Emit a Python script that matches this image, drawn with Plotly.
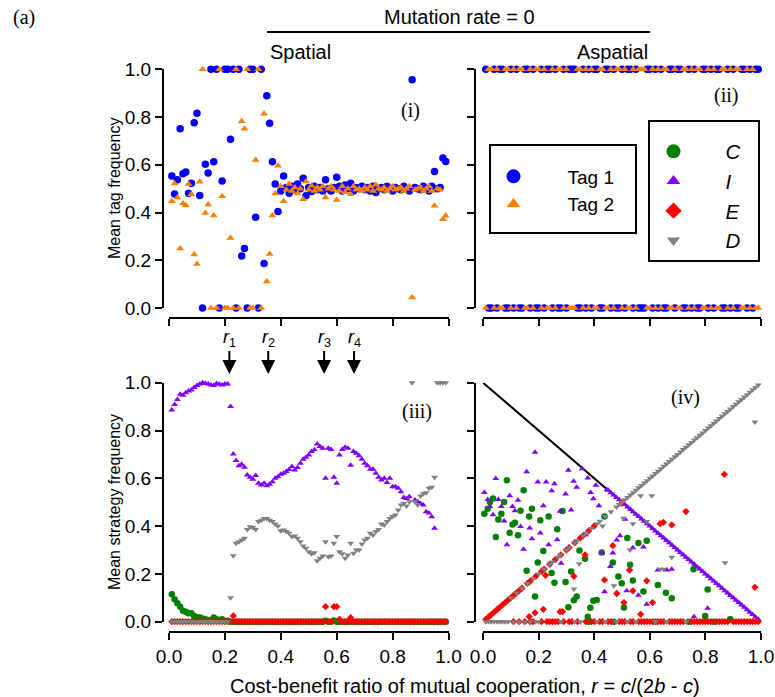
import plotly.graph_objects as go

# ---------------- data ----------------
# Spatial runs: cost-benefit ratio grid
sp_r = [0.01, 0.02, 0.03, 0.04, 0.05, 0.06, 0.07, 0.08, 0.09, 0.10,
        0.11, 0.12, 0.13, 0.14, 0.15, 0.16, 0.17, 0.18, 0.19, 0.20,
        0.21, 0.22, 0.23, 0.24, 0.25, 0.26, 0.27, 0.28, 0.29, 0.30,
        0.31, 0.32, 0.33, 0.34, 0.35, 0.36, 0.37, 0.38, 0.39, 0.40,
        0.41, 0.42, 0.43, 0.44, 0.45, 0.46, 0.47, 0.48, 0.49, 0.50,
        0.51, 0.52, 0.53, 0.54, 0.55, 0.56, 0.57, 0.58, 0.59, 0.60,
        0.61, 0.62, 0.63, 0.64, 0.65, 0.66, 0.67, 0.68, 0.69, 0.70,
        0.71, 0.72, 0.73, 0.74, 0.75, 0.76, 0.77, 0.78, 0.79, 0.80,
        0.81, 0.82, 0.83, 0.84, 0.85, 0.86, 0.87, 0.88, 0.89, 0.90,
        0.91, 0.92, 0.93, 0.94, 0.95, 0.96, 0.97, 0.98, 0.99]

sp_tag1 = [0.553, 0.478, 0.537, 0.751, 0.562, 0.570, 0.481, 0.523, 0.776, 0.816,
           0.471, 0.0, 0.602, 0.566, 1.0, 0.613, 1.0, 0.0, 0.532, 1.0,
           1.0, 0.707, 1.0, 0.0, 1.0, 0.218, 0.249, 0.0, 1.0, 1.0,
           0.380, 0.0, 1.0, 0.186, 0.889, 0.774, 0.613, 0.520, 0.404, 0.49,
           0.553, 0.505, 0.481, 0.51, 0.495, 0.52, 0.50, 0.544, 0.470, 0.505,
           0.488, 0.51, 0.495, 0.505, 0.49, 0.537, 0.50, 0.49, 0.505, 0.548,
           0.51, 0.49, 0.515, 0.50, 0.523, 0.49, 0.505, 0.50, 0.51, 0.495,
           0.505, 0.49, 0.51, 0.484, 0.50, 0.505, 0.495, 0.51, 0.50, 0.49,
           0.505, 0.50, 0.495, 0.51, 0.50, 0.49, 0.956, 0.505, 0.50, 0.495,
           0.51, 0.50, 0.49, 0.51, 0.572, 0.50, 0.505, 0.628, 0.614]

sp_tag2 = [0.447, 0.522, 0.463, 0.249, 0.438, 0.430, 0.519, 0.477, 0.224, 0.184,
           0.529, 1.0, 0.398, 0.434, 0.0, 0.387, 0.0, 1.0, 0.468, 0.0,
           0.0, 0.293, 0.0, 1.0, 0.0, 0.782, 0.751, 1.0, 0.0, 0.0,
           0.620, 1.0, 0.0, 0.814, 0.111, 0.226, 0.387, 0.480, 0.596, 0.51,
           0.447, 0.495, 0.519, 0.49, 0.505, 0.48, 0.50, 0.456, 0.530, 0.495,
           0.512, 0.49, 0.505, 0.495, 0.51, 0.463, 0.50, 0.51, 0.495, 0.452,
           0.49, 0.51, 0.485, 0.50, 0.477, 0.51, 0.495, 0.50, 0.49, 0.505,
           0.495, 0.51, 0.49, 0.516, 0.50, 0.495, 0.505, 0.49, 0.50, 0.51,
           0.495, 0.50, 0.505, 0.49, 0.50, 0.51, 0.044, 0.495, 0.50, 0.505,
           0.49, 0.50, 0.51, 0.49, 0.428, 0.50, 0.495, 0.372, 0.386]

sp_C = [0.115, 0.094, 0.077, 0.063, 0.046, 0.042, 0.035, 0.035, 0.024, 0.018,
        0.018, 0.013, 0.010, 0.007, 0.007, 0.018, 0.010, 0.007, 0.010, 0.003,
        0.004, 0.0, 0.0, 0.0, 0.0, 0.0, 0.0, 0.0, 0.0, 0.0,
        0.0, 0.0, 0.0, 0.0, 0.0, 0.0, 0.0, 0.0, 0.0, 0.0,
        0.0, 0.0, 0.0, 0.0, 0.0, 0.0, 0.0, 0.0, 0.0, 0.0,
        0.0, 0.0, 0.0, 0.0, 0.0, 0.004, 0.0, 0.0, 0.005, 0.0,
        0.0, 0.0, 0.0, 0.0, 0.0, 0.0, 0.0, 0.0, 0.0, 0.0,
        0.0, 0.0, 0.0, 0.0, 0.0, 0.0, 0.0, 0.0, 0.0, 0.0,
        0.0, 0.0, 0.0, 0.0, 0.0, 0.0, 0.0, 0.0, 0.0, 0.0,
        0.0, 0.0, 0.0, 0.0, 0.0, 0.0, 0.0, 0.0, 0.0]

sp_I = [0.886, 0.909, 0.930, 0.952, 0.948, 0.958, 0.965, 0.969, 0.980, 0.988,
        0.995, 1.000, 0.997, 0.995, 0.990, 0.988, 0.997, 0.993, 0.990, 0.995,
        0.995, 0.900, 0.702, 0.674, 0.652, 0.659, 0.646, 0.614, 0.604, 0.596,
        0.612, 0.579, 0.572, 0.579, 0.569, 0.575, 0.586, 0.600, 0.607, 0.617,
        0.621, 0.628, 0.637, 0.649, 0.635, 0.645, 0.663, 0.680, 0.688, 0.698,
        0.712, 0.719, 0.744, 0.733, 0.726, 0.600, 0.726, 0.721, 0.604, 0.579,
        0.698, 0.721, 0.730, 0.726, 0.655, 0.712, 0.705, 0.694, 0.680, 0.663,
        0.652, 0.638, 0.638, 0.621, 0.604, 0.593, 0.600, 0.582, 0.600, 0.565,
        0.565, 0.558, 0.544, 0.520, 0.516, 0.523, 0.000, 0.509, 0.502, 0.495,
        0.488, 0.460, 0.455, 0.439, 0.391, 0.000, 0.000, 0.000, 0.000]

sp_E = [0.0, 0.0, 0.0, 0.0, 0.0, 0.0, 0.0, 0.0, 0.0, 0.0,
        0.0, 0.0, 0.0, 0.0, 0.0, 0.0, 0.0, 0.0, 0.0, 0.0,
        0.0, 0.0, 0.024, 0.0, 0.0, 0.0, 0.0, 0.0, 0.0, 0.0,
        0.0, 0.0, 0.0, 0.0, 0.0, 0.0, 0.0, 0.0, 0.0, 0.0,
        0.0, 0.0, 0.0, 0.0, 0.0, 0.0, 0.0, 0.0, 0.0, 0.0,
        0.0, 0.0, 0.0, 0.0, 0.0, 0.063, 0.0, 0.0, 0.063, 0.063,
        0.010, 0.0, 0.0, 0.0, 0.017, 0.0, 0.0, 0.0, 0.0, 0.0,
        0.0, 0.0, 0.0, 0.0, 0.0, 0.0, 0.0, 0.0, 0.0, 0.0,
        0.0, 0.0, 0.0, 0.0, 0.0, 0.0, 0.0, 0.0, 0.0, 0.0,
        0.0, 0.0, 0.0, 0.0, 0.0, 0.0, 0.0, 0.0, 0.0]

sp_D = [0.0, 0.0, 0.0, 0.0, 0.0, 0.0, 0.0, 0.0, 0.0, 0.0,
        0.0, 0.0, 0.0, 0.0, 0.0, 0.0, 0.0, 0.0, 0.0, 0.0,
        0.0, 0.100, 0.276, 0.328, 0.335, 0.342, 0.349, 0.386, 0.397, 0.394,
        0.386, 0.419, 0.425, 0.432, 0.432, 0.425, 0.419, 0.409, 0.400, 0.381,
        0.384, 0.377, 0.370, 0.356, 0.359, 0.349, 0.335, 0.317, 0.307, 0.293,
        0.284, 0.289, 0.255, 0.265, 0.275, 0.335, 0.272, 0.275, 0.328, 0.356,
        0.293, 0.284, 0.265, 0.279, 0.328, 0.286, 0.300, 0.300, 0.325, 0.342,
        0.349, 0.370, 0.363, 0.377, 0.386, 0.409, 0.405, 0.419, 0.432, 0.440,
        0.446, 0.467, 0.488, 0.495, 0.484, 0.502, 1.000, 0.502, 0.488, 0.526,
        0.535, 0.540, 0.558, 0.563, 0.604, 1.000, 1.000, 1.000, 1.000]

# Aspatial runs: tag frequencies (fixation at 0 or 1)
asp_r = list(sp_r)
asp_tag1 = [1, 0, 0, 1, 0, 1, 1, 0, 0, 1,
            0, 1, 0, 0, 1, 1, 0, 1, 0, 0,
            1, 0, 1, 1, 0, 1, 0, 0, 1, 0,
            1, 1, 1, 0, 0, 1, 0, 1, 0, 1,
            1, 0, 0, 1, 1, 0, 1, 0, 0, 1,
            0, 1, 1, 0, 1, 0, 0, 0, 1, 1,
            0, 1, 0, 1, 0, 0, 1, 1, 0, 1,
            1, 0, 0, 1, 0, 1, 0, 0, 1, 1,
            0, 1, 0, 1, 1, 0, 0, 1, 0, 1,
            0, 0, 1, 1, 0, 1, 0, 1, 1]
asp_tag2 = [0, 1, 1, 0, 1, 0, 0, 1, 1, 0,
            1, 0, 1, 1, 0, 0, 1, 0, 1, 1,
            0, 1, 0, 0, 1, 0, 1, 1, 0, 1,
            0, 0, 0, 1, 1, 0, 1, 0, 1, 0,
            0, 1, 1, 0, 0, 1, 0, 1, 1, 0,
            1, 0, 0, 1, 0, 1, 1, 1, 0, 0,
            1, 0, 1, 0, 1, 1, 0, 0, 1, 0,
            0, 1, 1, 0, 1, 0, 1, 1, 0, 0,
            1, 0, 1, 0, 0, 1, 1, 0, 1, 0,
            1, 1, 0, 0, 1, 0, 1, 0, 0]

# Aspatial runs: strategy frequencies (r, frequency)
asp_C_r = [0.005, 0.017, 0.025, 0.036, 0.046, 0.055, 0.066, 0.076, 0.086, 0.096,
           0.106, 0.115, 0.126, 0.135, 0.146, 0.157, 0.166, 0.176, 0.187, 0.197,
           0.206, 0.217, 0.236, 0.247, 0.257, 0.267, 0.286, 0.297, 0.307, 0.317,
           0.327, 0.337, 0.347, 0.367, 0.377, 0.386, 0.397, 0.409, 0.427, 0.437,
           0.467, 0.487, 0.499, 0.507, 0.519, 0.529, 0.539, 0.559, 0.577, 0.589,
           0.629, 0.658, 0.679, 0.757, 0.799, 0.808, 0.889,
           0.38, 0.47, 0.62, 0.74, 0.83]
asp_C_f = [0.452, 0.473, 0.501, 0.515, 0.354, 0.428, 0.452, 0.501, 0.592, 0.372,
           0.407, 0.414, 0.362, 0.464, 0.550, 0.213, 0.440, 0.473, 0.105, 0.248,
           0.424, 0.296, 0.440, 0.204, 0.163, 0.387, 0.463, 0.166, 0.060, 0.210,
           0.090, 0.105, 0.298, 0.263, 0.021, 0.058, 0.088, 0.091, 0.290, 0.440,
           0.248, 0.189, 0.161, 0.059, 0.350, 0.238, 0.172, 0.329, 0.126, 0.339,
           0.154, 0.121, 0.098, 0.219, 0.024, 0.135, 0.010,
           0.0, 0.0, 0.0, 0.0, 0.0]

asp_I_r = [0.005, 0.017, 0.025, 0.036, 0.046, 0.055, 0.066, 0.076, 0.086, 0.096,
           0.106, 0.115, 0.126, 0.135, 0.146, 0.157, 0.168, 0.176, 0.187, 0.197,
           0.206, 0.217, 0.227, 0.236, 0.247, 0.257, 0.267, 0.277, 0.281, 0.297,
           0.307, 0.317, 0.326, 0.337, 0.357, 0.369, 0.377, 0.387, 0.397, 0.406,
           0.417, 0.427, 0.437, 0.446, 0.458, 0.467, 0.481, 0.493, 0.511, 0.517,
           0.539, 0.559, 0.577, 0.589, 0.629, 0.661, 0.679, 0.759, 0.808,
           0.45, 0.46, 0.47, 0.48, 0.49, 0.50, 0.51, 0.52, 0.53, 0.54,
           0.55, 0.56, 0.57, 0.58, 0.59, 0.60, 0.61, 0.62, 0.63, 0.64,
           0.65, 0.66, 0.67, 0.68, 0.69, 0.70, 0.71, 0.72, 0.73, 0.74,
           0.75, 0.76, 0.77, 0.78, 0.79, 0.80, 0.81, 0.82, 0.83, 0.84,
           0.85, 0.86, 0.87, 0.88, 0.89, 0.90, 0.91, 0.92, 0.93, 0.94,
           0.95, 0.96, 0.97, 0.98, 0.99]
asp_I_f = [0.541, 0.511, 0.482, 0.447, 0.599, 0.511, 0.482, 0.421, 0.322, 0.527,
           0.482, 0.464, 0.508, 0.398, 0.303, 0.627, 0.392, 0.347, 0.709, 0.584,
           0.371, 0.485, 0.584, 0.322, 0.548, 0.577, 0.343, 0.462, 0.245, 0.534,
           0.634, 0.467, 0.588, 0.563, 0.640, 0.364, 0.601, 0.541, 0.514, 0.571,
           0.485, 0.287, 0.125, 0.552, 0.231, 0.287, 0.342, 0.360, 0.429, 0.129,
           0.309, 0.111, 0.313, 0.073, 0.216, 0.216, 0.219, 0.021, 0.056,
           0.55, 0.54, 0.53, 0.52, 0.51, 0.50, 0.49, 0.48, 0.47, 0.46,
           0.45, 0.44, 0.43, 0.42, 0.41, 0.40, 0.39, 0.38, 0.37, 0.36,
           0.35, 0.34, 0.33, 0.32, 0.31, 0.30, 0.29, 0.28, 0.27, 0.26,
           0.25, 0.24, 0.23, 0.22, 0.21, 0.20, 0.19, 0.18, 0.17, 0.16,
           0.15, 0.14, 0.13, 0.12, 0.11, 0.10, 0.09, 0.08, 0.07, 0.06,
           0.05, 0.04, 0.03, 0.02, 0.01]

asp_E_r = [0.01, 0.02, 0.03, 0.04, 0.05, 0.06, 0.07, 0.08, 0.09, 0.10,
           0.11, 0.12, 0.13, 0.14, 0.16, 0.17, 0.19, 0.21, 0.22, 0.24,
           0.26, 0.28, 0.30, 0.31, 0.33, 0.35, 0.36, 0.38, 0.40,
           0.166, 0.187, 0.217, 0.225, 0.277, 0.286, 0.327, 0.367, 0.437, 0.467,
           0.481, 0.499, 0.507, 0.527, 0.539, 0.567, 0.589, 0.610, 0.637, 0.649,
           0.679, 0.730, 0.868, 0.978,
           0.11, 0.13, 0.15, 0.17, 0.18, 0.21, 0.23, 0.24, 0.25, 0.26,
           0.27, 0.29, 0.31, 0.32, 0.34, 0.37, 0.39, 0.40, 0.42, 0.43,
           0.45, 0.46, 0.49, 0.50, 0.51, 0.53, 0.54, 0.56, 0.57, 0.58,
           0.59, 0.60, 0.61, 0.63, 0.64, 0.65, 0.67, 0.68, 0.69, 0.70,
           0.71, 0.72, 0.75, 0.76, 0.77, 0.78, 0.79, 0.80, 0.81, 0.82,
           0.84, 0.85, 0.86, 0.87, 0.88, 0.90, 0.91, 0.92, 0.93, 0.94,
           0.95, 0.96, 0.97, 0.98, 0.99]
asp_E_f = [0.01, 0.02, 0.03, 0.04, 0.05, 0.06, 0.07, 0.08, 0.09, 0.10,
           0.11, 0.12, 0.13, 0.14, 0.16, 0.17, 0.19, 0.21, 0.22, 0.24,
           0.26, 0.28, 0.30, 0.31, 0.33, 0.35, 0.36, 0.38, 0.40,
           0.021, 0.037, 0.052, 0.194, 0.042, 0.042, 0.190, 0.280, 0.175, 0.318,
           0.118, 0.496, 0.080, 0.216, 0.129, 0.031, 0.171, 0.080, 0.410, 0.416,
           0.405, 0.461, 0.616, 0.144,
           0.0, 0.0, 0.0, 0.0, 0.0, 0.0, 0.0, 0.0, 0.0, 0.0,
           0.0, 0.0, 0.0, 0.0, 0.0, 0.0, 0.0, 0.0, 0.0, 0.0,
           0.0, 0.0, 0.0, 0.0, 0.0, 0.0, 0.0, 0.0, 0.0, 0.0,
           0.0, 0.0, 0.0, 0.0, 0.0, 0.0, 0.0, 0.0, 0.0, 0.0,
           0.0, 0.0, 0.0, 0.0, 0.0, 0.0, 0.0, 0.0, 0.0, 0.0,
           0.0, 0.0, 0.0, 0.0, 0.0, 0.0, 0.0, 0.0, 0.0, 0.0,
           0.0, 0.0, 0.0, 0.0, 0.0]

asp_D_r = [0.10, 0.12, 0.14, 0.16, 0.18, 0.20, 0.22, 0.24, 0.25, 0.27,
           0.28, 0.30, 0.31, 0.33, 0.34, 0.36, 0.37, 0.39, 0.41, 0.42,
           0.44, 0.46, 0.48, 0.49, 0.50, 0.51, 0.52, 0.53, 0.54, 0.55,
           0.56, 0.57, 0.58, 0.59, 0.60, 0.61, 0.62, 0.63, 0.64, 0.65,
           0.66, 0.67, 0.68, 0.69, 0.70, 0.71, 0.72, 0.73, 0.74, 0.75,
           0.76, 0.77, 0.78, 0.79, 0.80, 0.81, 0.82, 0.83, 0.84, 0.85,
           0.86, 0.87, 0.88, 0.89, 0.90, 0.91, 0.92, 0.93, 0.94, 0.95,
           0.96, 0.97, 0.98, 0.99,
           0.327, 0.346, 0.43, 0.471, 0.505, 0.529, 0.539, 0.567, 0.589, 0.607,
           0.637, 0.649, 0.679, 0.871, 0.978,
           0.01, 0.02, 0.03, 0.04, 0.05, 0.06, 0.07, 0.08, 0.09, 0.11,
           0.13, 0.15, 0.17, 0.19, 0.20, 0.28, 0.33, 0.35, 0.41, 0.44,
           0.48, 0.52, 0.55, 0.62, 0.66, 0.73]
asp_D_f = [0.10, 0.12, 0.14, 0.16, 0.18, 0.20, 0.22, 0.24, 0.25, 0.27,
           0.28, 0.30, 0.31, 0.33, 0.34, 0.36, 0.37, 0.39, 0.41, 0.42,
           0.44, 0.46, 0.48, 0.49, 0.50, 0.51, 0.52, 0.53, 0.54, 0.55,
           0.56, 0.57, 0.58, 0.59, 0.60, 0.61, 0.62, 0.63, 0.64, 0.65,
           0.66, 0.67, 0.68, 0.69, 0.70, 0.71, 0.72, 0.73, 0.74, 0.75,
           0.76, 0.77, 0.78, 0.79, 0.80, 0.81, 0.82, 0.83, 0.84, 0.85,
           0.86, 0.87, 0.88, 0.89, 0.90, 0.91, 0.92, 0.93, 0.94, 0.95,
           0.96, 0.97, 0.98, 0.99,
           0.137, 0.242, 0.40, 0.150, 0.433, 0.300, 0.410, 0.527, 0.419, 0.527,
           0.219, 0.219, 0.270, 0.247, 0.836,
           0.0, 0.0, 0.0, 0.0, 0.0, 0.0, 0.0, 0.0, 0.0, 0.0,
           0.0, 0.0, 0.0, 0.0, 0.0, 0.0, 0.0, 0.0, 0.0, 0.0,
           0.0, 0.0, 0.0, 0.0, 0.0, 0.0]

# boundary I + C = 1 - r (black line in panel iv)
bound_r = [0.0, 1.0]
bound_f = [1.0, 0.0]

# critical ratios marked by arrows
r_marks = [0.216, 0.355, 0.555, 0.662]
r_names = ["1", "2", "3", "4"]

tick_vals = [0.0, 0.2, 0.4, 0.6, 0.8, 1.0]
tick_text = ["0.0", "0.2", "0.4", "0.6", "0.8", "1.0"]

# ---------------- styling ----------------
W, H = 775, 697
def fx(px):
    return px / W
def fy(py):
    return 1 - py / H

BLUE = "#0000FF"
ORANGE = "#FF7F00"
GREEN = "#008000"
PURPLE = "#8000FF"
RED = "#FF0000"
GRAY = "#808080"
SANS = "Liberation Sans, Arial, sans-serif"
SERIF = "Liberation Serif, Times New Roman, serif"

fig = go.Figure()

def add(x, y, xa, ya, color, symbol, size):
    fig.add_trace(go.Scatter(x=x, y=y, xaxis=xa, yaxis=ya, mode="markers",
                             marker=dict(color=color, symbol=symbol, size=size),
                             cliponaxis=False, showlegend=False, hoverinfo="skip"))

# (i) spatial tags
add(sp_r, sp_tag1, "x", "y", BLUE, "circle", 7.5)
add(sp_r, sp_tag2, "x", "y", ORANGE, "triangle-up", 7)
# (ii) aspatial tags
add(asp_r, asp_tag1, "x2", "y2", BLUE, "circle", 7.5)
add(asp_r, asp_tag2, "x2", "y2", ORANGE, "triangle-up", 7)
# (iii) spatial strategies
add(sp_r, sp_C, "x3", "y3", GREEN, "circle", 6.5)
add(sp_r, sp_I, "x3", "y3", PURPLE, "triangle-up", 6)
add(sp_r, sp_E, "x3", "y3", RED, "diamond", 5.6)
add(sp_r, sp_D, "x3", "y3", GRAY, "triangle-down", 6)
# (iv) aspatial strategies
fig.add_trace(go.Scatter(x=bound_r, y=bound_f, xaxis="x4", yaxis="y4", mode="lines",
                         line=dict(color="black", width=2), showlegend=False,
                         hoverinfo="skip"))
add(asp_C_r, asp_C_f, "x4", "y4", GREEN, "circle", 6.5)
add(asp_I_r, asp_I_f, "x4", "y4", PURPLE, "triangle-up", 6)
add(asp_E_r, asp_E_f, "x4", "y4", RED, "diamond", 5.6)
add(asp_D_r, asp_D_f, "x4", "y4", GRAY, "triangle-down", 6)

# legend entries
def leg(name, color, symbol, size, legend):
    fig.add_trace(go.Scatter(x=[None], y=[None], xaxis="x2", yaxis="y2", mode="markers",
                             marker=dict(color=color, symbol=symbol, size=size),
                             name=name, legend=legend, showlegend=True))

leg("Tag 1", BLUE, "circle", 14, "legend")
leg("Tag 2", ORANGE, "triangle-up", 12, "legend")
leg("<i>C</i>", GREEN, "circle", 14, "legend2")
leg("<i>I</i>", PURPLE, "triangle-up", 12, "legend2")
leg("<i>E</i>", RED, "diamond", 12.5, "legend2")
leg("<i>D</i>", GRAY, "triangle-down", 11.5, "legend2")

axis_base = dict(range=[0, 1], showgrid=False, zeroline=False, showline=True,
                 linecolor="black", linewidth=2, ticks="outside", ticklen=7,
                 tickwidth=2, tickcolor="black", tickvals=tick_vals, ticktext=tick_text,
                 tickfont=dict(family=SANS, size=19, color="black"), fixedrange=True,
                 anchor="free", automargin=False)

XL = [fx(169), fx(448.5)]
XR = [fx(483), fx(761)]
YT = [fy(308), fy(69.3)]
YB = [fy(621.7), fy(382.7)]

fig.update_layout(
    width=W, height=H,
    margin=dict(l=0, r=0, t=0, b=0, pad=0, autoexpand=False),
    paper_bgcolor="white", plot_bgcolor="white",
    font=dict(family=SANS, size=19, color="black"),
    xaxis=dict(axis_base, domain=XL, position=fy(318), showticklabels=False),
    xaxis2=dict(axis_base, domain=XR, position=fy(318), showticklabels=False),
    xaxis3=dict(axis_base, domain=XL, position=fy(632), showticklabels=True),
    xaxis4=dict(axis_base, domain=XR, position=fy(632), showticklabels=True),
    yaxis=dict(axis_base, domain=YT, position=fx(163), showticklabels=True),
    yaxis2=dict(axis_base, domain=YT, position=fx(474.5), showticklabels=False),
    yaxis3=dict(axis_base, domain=YB, position=fx(163), showticklabels=True),
    yaxis4=dict(axis_base, domain=YB, position=fx(474.5), showticklabels=False),
    legend=dict(x=fx(459.5), y=fy(157.5), xanchor="left", yanchor="top",
                itemwidth=98, bgcolor="rgba(0,0,0,0)", borderwidth=0,
                font=dict(family=SANS, size=19, color="black"),
                itemclick=False, itemdoubleclick=False),
    legend2=dict(x=fx(621.5), y=fy(131.5), xanchor="left", yanchor="top",
                 itemwidth=94, bgcolor="rgba(0,0,0,0)", borderwidth=0,
                 font=dict(family=SANS, size=20.5, color="black"),
                 itemclick=False, itemdoubleclick=False),
    showlegend=True,
)

shapes = [
    dict(type="line", xref="paper", yref="paper", x0=fx(267), x1=fx(650),
         y0=fy(32), y1=fy(32), line=dict(color="black", width=2)),
    dict(type="rect", xref="paper", yref="paper", x0=fx(490), x1=fx(636),
         y0=fy(233), y1=fy(145), line=dict(color="black", width=2)),
    dict(type="rect", xref="paper", yref="paper", x0=fx(649), x1=fx(759),
         y0=fy(261), y1=fy(121), line=dict(color="black", width=2)),
]
fig.update_layout(shapes=shapes)

ann = []
def text(t, x, y, size=20, family=SANS, angle=0):
    ann.append(dict(text=t, x=x, y=y, xref="paper", yref="paper", showarrow=False,
                    xanchor="center", yanchor="middle", textangle=angle,
                    font=dict(family=family, size=size, color="black")))

text("(a)", fx(24), fy(17), size=20, family=SERIF)
text("Mutation rate = 0", fx(460), fy(17))
text("Spatial", fx(300), fy(52))
text("Aspatial", fx(612), fy(52))
text("Mean tag frequency", fx(114), fy(189), size=16, angle=-90)
text("Mean strategy frequency", fx(114), fy(502), size=16, angle=-90)
text("Cost-benefit ratio of mutual cooperation, <i>r</i> = <i>c</i>/(2<i>b</i> - <i>c</i>)",
     fx(465), fy(686))
text("(i)", fx(410), fy(110), size=20, family=SERIF)
text("(ii)", fx(726), fy(96), size=20, family=SERIF)
text("(iii)", fx(417), fy(411), size=20, family=SERIF)
text("(iv)", fx(685), fy(397), size=20, family=SERIF)

for rv, nm in zip(r_marks, r_names):
    ann.append(dict(text="<i>r</i><sub>" + nm + "</sub>", x=rv, y=fy(374),
                    xref="x3", yref="paper", ax=0, ay=-36, showarrow=True,
                    arrowhead=2, arrowsize=1.4, arrowwidth=2, arrowcolor="black",
                    font=dict(family=SANS, size=18, color="black")))

fig.update_layout(annotations=ann)

fig.write_html("out.html")
